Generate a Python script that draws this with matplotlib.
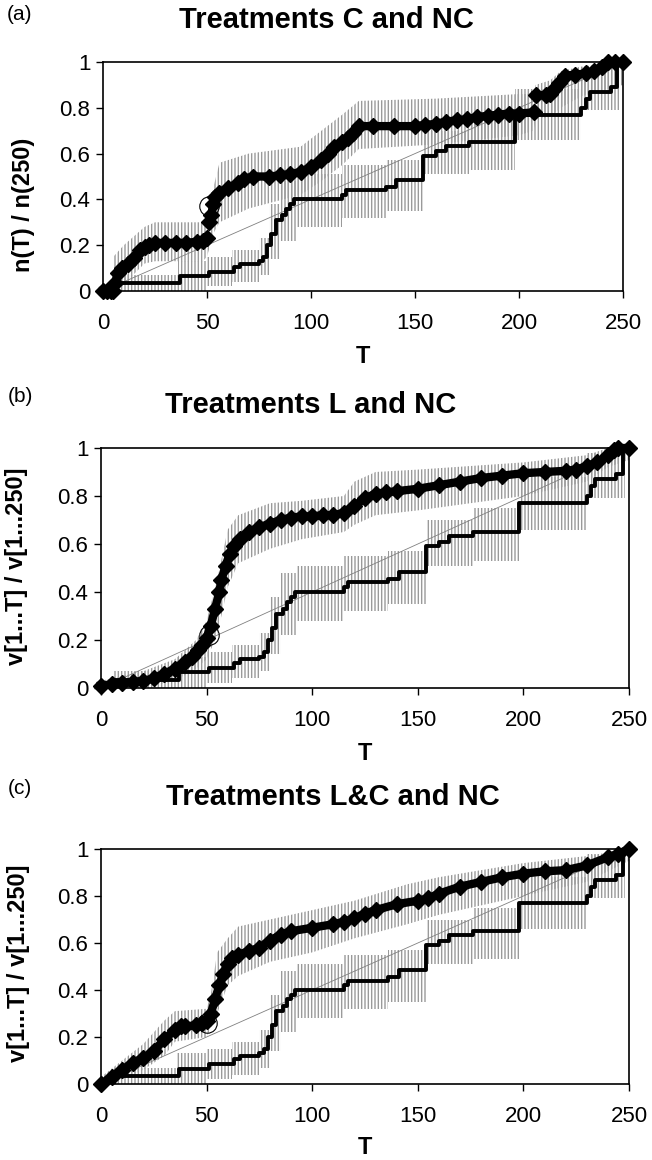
import numpy as np
import matplotlib
matplotlib.use("Agg")
import matplotlib.pyplot as plt

plt.rcParams["font.family"] = ["Liberation Sans", "DejaVu Sans"]
plt.rcParams["hatch.linewidth"] = 1.0
plt.rcParams["hatch.color"] = "#9a9a9a"

nan = np.nan

# reference treatment NC (step line, same in every panel)
nc_T = [0, 6, 37, 51, 63, 66, 75, 77, 79, 81, 83, 86, 88, 90, 92, 115, 117, 136, 141,
        154, 160, 165, 176, 198, 230, 232, 234, 244, 247, 250]
nc_v = [0, 0.035, 0.065, 0.085, 0.105, 0.12, 0.13, 0.15, 0.2, 0.25, 0.31, 0.33, 0.36,
        0.38, 0.4, 0.42, 0.44, 0.455, 0.485, 0.59, 0.61, 0.635, 0.65, 0.77, 0.8, 0.84,
        0.87, 0.89, 1.0, 1.0]
nc_bandT = [6, 36, 50, 62, 75, 80, 85, 93, 115, 136, 154, 176, 198, 230, 248]
nc_lo = [0.0, 0.0, 0.02, 0.04, 0.07, 0.14, 0.22, 0.28, 0.32, 0.35, 0.51, 0.53, 0.66, 0.79, 0.79]
nc_hi = [0.07, 0.13, 0.15, 0.18, 0.23, 0.38, 0.48, 0.51, 0.55, 0.57, 0.70, 0.75, 0.88, 0.98, 0.98]

# (a) treatment C
a_T = [0, 2, 4, 5, 6, 7, 9, 12, 15, 18, 20, 22, 25, 30, 35, 40, 45, 48, 50, 50.5,
       51, 52, 53, 54, 56, 60, 65, 68, 72, 80, 85, 90, 95, 100, 105, 108, 111, 115, 118, 120,
       123, 130, 140, 150, 155, 160, 165, 170, 175, 180, 185, 190, 195, 200, 207, 207.5,
       208, 213, 215, 217, 219, 222, 227, 232, 236, 240, 243, 246, 250]
a_v = [0, 0, 0, 0, 0.035, 0.08, 0.1, 0.12, 0.145, 0.18, 0.19, 0.2, 0.21, 0.21, 0.21, 0.21,
       0.215, 0.22, 0.23, nan, 0.3, 0.33, 0.38, 0.41, 0.43, 0.45, 0.47, 0.49, 0.5, 0.5,
       0.505, 0.51, 0.52, 0.54, 0.57, 0.6, 0.63, 0.65, 0.67, 0.69, 0.72, 0.72, 0.72, 0.72,
       0.725, 0.73, 0.74, 0.745, 0.75, 0.76, 0.765, 0.77, 0.775, 0.775, 0.78, nan,
       0.855, 0.855, 0.86, 0.88, 0.91, 0.94, 0.945, 0.95, 0.96, 0.98, 1.0, 1.0, 1.0]
a_bandT = [5, 10, 20, 25, 48, 50, 53, 56, 70, 95, 105, 115, 123, 160, 200, 207, 208, 215,
           220, 230, 250]
a_lo = [0.0, 0.03, 0.12, 0.13, 0.13, 0.15, 0.25, 0.3, 0.36, 0.42, 0.48, 0.55, 0.62, 0.64,
        0.68, 0.7, 0.75, 0.76, 0.8, 0.85, 0.9]
a_hi = [0.15, 0.2, 0.28, 0.3, 0.3, 0.32, 0.45, 0.56, 0.6, 0.63, 0.7, 0.77, 0.83, 0.84,
        0.86, 0.86, 0.9, 0.92, 0.96, 0.98, 1.0]

# (b) treatment L
b_T = [0, 5, 10, 15, 20, 25, 30, 35, 40, 43, 46, 48, 50, 52, 54, 56, 57, 59, 61, 63,
       66, 70, 75, 80, 85, 90, 95, 100, 105, 110, 115, 120, 125, 130, 135, 140, 150, 160,
       170, 180, 190, 200, 210, 220, 225, 230, 235, 240, 243, 245, 250]
b_v = [0.01, 0.015, 0.02, 0.025, 0.03, 0.04, 0.06, 0.08, 0.11, 0.13, 0.16, 0.18, 0.21,
       0.26, 0.33, 0.4, 0.45, 0.51, 0.56, 0.59, 0.62, 0.65, 0.67, 0.685, 0.7, 0.71, 0.715,
       0.715, 0.72, 0.72, 0.73, 0.76, 0.79, 0.81, 0.815, 0.82, 0.83, 0.845, 0.86, 0.875,
       0.885, 0.895, 0.9, 0.905, 0.91, 0.925, 0.94, 0.97, 0.99, 1.0, 1.0]
b_bandT = [0, 20, 35, 45, 50, 55, 60, 65, 80, 95, 115, 120, 130, 150, 200, 230, 240, 250]
b_lo = [0.0, 0.0, 0.03, 0.08, 0.12, 0.22, 0.42, 0.52, 0.58, 0.62, 0.65, 0.68, 0.72, 0.74,
        0.8, 0.86, 0.92, 0.95]
b_hi = [0.03, 0.07, 0.12, 0.2, 0.28, 0.45, 0.66, 0.72, 0.77, 0.78, 0.8, 0.86, 0.9, 0.91,
        0.94, 0.97, 1.0, 1.0]

# (c) treatment L&C
c_T = [0, 5, 10, 15, 20, 25, 30, 35, 38, 40, 45, 48, 50, 52, 54, 56, 58, 60, 62, 65,
       70, 75, 80, 85, 90, 100, 110, 115, 120, 125, 130, 140, 150, 155, 160, 170, 180, 190,
       200, 210, 220, 230, 240, 245, 250]
c_v = [0.0, 0.03, 0.06, 0.09, 0.11, 0.14, 0.19, 0.23, 0.245, 0.245, 0.25, 0.26, 0.27, 0.3,
       0.36, 0.42, 0.47, 0.51, 0.535, 0.55, 0.565, 0.58, 0.61, 0.635, 0.65, 0.665, 0.68,
       0.69, 0.705, 0.725, 0.74, 0.765, 0.78, 0.79, 0.81, 0.84, 0.86, 0.88, 0.895, 0.905,
       0.91, 0.93, 0.965, 0.98, 1.0]
c_bandT = [0, 10, 20, 30, 35, 50, 52, 55, 60, 65, 80, 100, 120, 145, 160, 200, 230, 250]
c_lo = [0.0, 0.02, 0.06, 0.12, 0.18, 0.2, 0.24, 0.3, 0.42, 0.46, 0.52, 0.56, 0.62, 0.68,
        0.72, 0.8, 0.86, 0.95]
c_hi = [0.03, 0.1, 0.17, 0.27, 0.31, 0.32, 0.38, 0.56, 0.62, 0.67, 0.7, 0.74, 0.78, 0.85,
        0.88, 0.94, 0.97, 1.0]

diag_T = [0, 250]
diag_v = [0, 1]
circle_T = [51, 51, 50]
circle_v = [0.37, 0.22, 0.26]

titles = ["Treatments C and NC", "Treatments L and NC", "Treatments L&C and NC"]
ylabels = ["n(T) / n(250)", "v[1...T] / v[1...250]", "v[1...T] / v[1...250]"]
tags = ["(a)", "(b)", "(c)"]

W, H = 652, 1160
fig = plt.figure(figsize=(W / 100, H / 100), dpi=100)

# axes boxes in pixels: left, right, top, bottom
boxes = [(103, 623, 62, 291), (101, 629, 448, 688), (101, 629, 849, 1084)]
title_xy = [(326, 20), (311, 405), (333, 797)]
tag_y = [15, 397, 788]
ylab_xy = [(-0.152, 0.376), (-0.16, 0.508), (-0.156, 0.515)]
xlab_y = [-0.236, -0.225, -0.222]

series = [(a_T, a_v, a_bandT, a_lo, a_hi),
          (b_T, b_v, b_bandT, b_lo, b_hi),
          (c_T, c_v, c_bandT, c_lo, c_hi)]

for i, (T, v, bT, lo, hi) in enumerate(series):
    l, r, t, b = boxes[i]
    ax = fig.add_axes([l / W, 1 - b / H, (r - l) / W, (b - t) / H])

    # error bars, shown as dense grey verticals
    ax.fill_between(nc_bandT, nc_lo, nc_hi, step="post", facecolor="none",
                    edgecolor="#9a9a9a", hatch="|||||", linewidth=0)
    ax.fill_between(bT, lo, hi, facecolor="none", edgecolor="#9a9a9a",
                    hatch="|||||", linewidth=0)

    ax.plot(diag_T, diag_v, color="#808080", lw=0.6)
    ax.plot(nc_T, nc_v, drawstyle="steps-post", color="black", lw=2.8)
    ax.plot(T, v, color="black", lw=6, marker="D", ms=8, clip_on=False, zorder=4)
    ax.plot(circle_T[i], circle_v[i], marker="o", ms=14, mfc="none", mec="black",
            mew=0.8, zorder=5)

    ax.set_xlim(0, 250)
    ax.set_ylim(0, 1)
    ax.set_xticks([0, 50, 100, 150, 200, 250])
    ax.set_yticks([0, 0.2, 0.4, 0.6, 0.8, 1])
    ax.set_yticklabels(["0", "0.2", "0.4", "0.6", "0.8", "1"])
    ax.tick_params(axis="x", direction="out", length=5, width=1, labelsize=16, pad=11)
    ax.tick_params(axis="y", direction="out", length=5, width=1, labelsize=16, pad=4)
    for s in ax.spines.values():
        s.set_linewidth(1.2)

    ax.set_xlabel("T", fontsize=17, fontweight="bold")
    ax.xaxis.set_label_coords(0.5, xlab_y[i])
    ax.set_ylabel(ylabels[i], fontsize=17, fontweight="bold")
    ax.yaxis.set_label_coords(*ylab_xy[i])
    ax.yaxis.label.set_verticalalignment("center")

    fig.text(title_xy[i][0] / W, 1 - title_xy[i][1] / H, titles[i], fontsize=21,
             fontweight="bold", ha="center", va="center")
    fig.text(20 / W, 1 - tag_y[i] / H, tags[i], fontsize=15, ha="center", va="center")

fig.savefig("out.png", dpi=100)
